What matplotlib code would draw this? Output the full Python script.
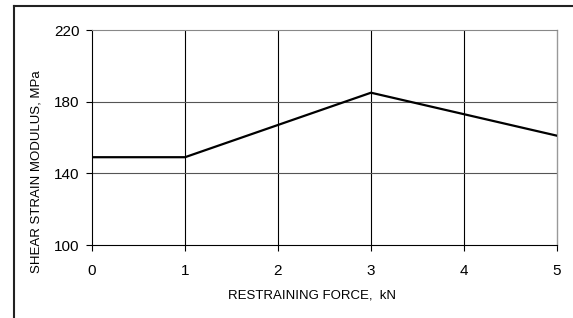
import matplotlib
matplotlib.use("Agg")
import matplotlib.pyplot as plt
from matplotlib.lines import Line2D
from matplotlib import font_manager

force_kN = [0, 1, 2, 3, 4, 5]
modulus_MPa = [149, 149, 167, 185, 173, 161]
x_ticks = [0, 1, 2, 3, 4, 5]
y_ticks = [100, 140, 180, 220]

names = {f.name for f in font_manager.fontManager.ttflist}
label_font = "Liberation Sans Narrow" if "Liberation Sans Narrow" in names else "Liberation Sans"
plt.rcParams['font.family'] = ['Liberation Sans', 'DejaVu Sans']

W, H = 573, 318
fig = plt.figure(figsize=(W / 100, H / 100), dpi=100)
ax = fig.add_axes([92 / W, 1 - 245 / H, (557 - 92) / W, (245 - 30) / H])

ax.plot(force_kN, modulus_MPa, color='black', lw=1.6, solid_joinstyle='miter', zorder=3)

ax.set_xlim(0, 5)
ax.set_ylim(100, 220)
ax.set_xticks(x_ticks)
ax.set_yticks(y_ticks)
ax.set_xticklabels([str(v) for v in x_ticks], fontsize=11)
ax.set_yticklabels([str(v) for v in y_ticks], fontsize=11)
ax.tick_params(axis='x', direction='out', length=4, width=0.8, pad=10, color='black')
ax.tick_params(axis='y', direction='out', length=4, width=0.8, pad=5, color='black')

for v in x_ticks[1:-1]:
    ax.axvline(v, color='black', lw=0.8, zorder=1)
for v in y_ticks[1:-1]:
    ax.axhline(v, color='#555555', lw=0.8, zorder=1)

ax.spines['left'].set_color('black')
ax.spines['bottom'].set_color('black')
ax.spines['left'].set_linewidth(0.8)
ax.spines['bottom'].set_linewidth(0.8)
ax.spines['top'].set_color('#888888')
ax.spines['right'].set_color('#999999')
ax.spines['top'].set_linewidth(0.8)
ax.spines['right'].set_linewidth(1.0)

fig.text(37 / W, 1 - 172 / H, "SHEAR STRAIN MODULUS, MPa", rotation=90,
         ha='center', va='center', fontsize=9.5, family=label_font)
fig.text(312 / W, 1 - 296 / H, "RESTRAINING FORCE,  kN",
         ha='center', va='center', fontsize=9.5, family=label_font)

# outer frame (top and left edges)
fig.add_artist(Line2D([14 / W, 1], [1 - 6 / H, 1 - 6 / H], transform=fig.transFigure,
                      color='#222222', lw=1.5))
fig.add_artist(Line2D([14 / W, 14 / W], [0, 1 - 6 / H], transform=fig.transFigure,
                      color='#222222', lw=1.5))

fig.savefig("out.png", dpi=100)
